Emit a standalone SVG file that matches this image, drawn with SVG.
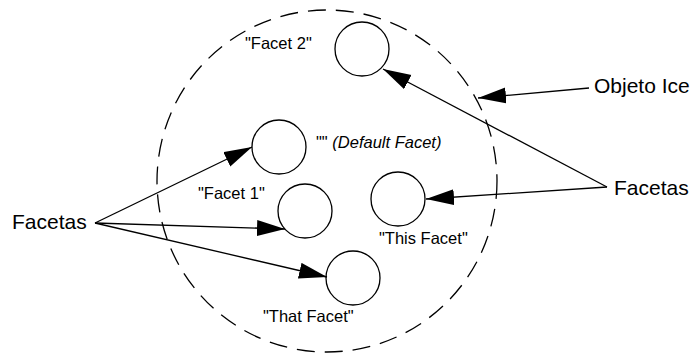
<svg xmlns="http://www.w3.org/2000/svg" width="693" height="354" viewBox="0 0 693 354">
<style>
text{font-family:"Liberation Sans",Arial,sans-serif;fill:#000}
.lbl{font-size:16.5px}
.big{font-size:21px}
.facet{fill:#fff;stroke:#000;stroke-width:1.3}
.conn line{stroke:#000;stroke-width:1.3}
</style>
<defs>
<marker id="ah" markerUnits="userSpaceOnUse" markerWidth="30" markerHeight="18" refX="28" refY="8" orient="auto">
<path d="M0,0 L28,8 L0,16 z" fill="#000"/>
</marker>
</defs>
<g id="ice-object">
<ellipse cx="327" cy="181" rx="170" ry="171" fill="none" stroke="#000" stroke-width="1.3" stroke-dasharray="18 10"/>
</g>
<g id="facet2"><circle class="facet" cx="362" cy="49" r="27"/><text class="lbl" x="245" y="49">"Facet 2"</text></g>
<g id="default-facet"><circle class="facet" cx="279" cy="147" r="27"/><text class="lbl" x="316" y="148">""  <tspan font-style="italic">(Default Facet)</tspan></text></g>
<g id="facet1"><circle class="facet" cx="305" cy="211" r="27"/><text class="lbl" x="198" y="199">"Facet 1"</text></g>
<g id="this-facet"><circle class="facet" cx="398" cy="199" r="27"/><text class="lbl" x="379" y="244">"This Facet"</text></g>
<g id="that-facet"><circle class="facet" cx="353" cy="278" r="27"/><text class="lbl" x="263" y="322">"That Facet"</text></g>
<g id="facetas-left"><text class="big" x="12" y="229">Facetas</text></g>
<g id="facetas-right"><text class="big" x="614" y="195">Facetas</text></g>
<g id="objeto-ice"><text class="big" x="594" y="93">Objeto Ice</text></g>
<g class="conn" id="connectors">
<line x1="95" y1="223" x2="252" y2="147" marker-end="url(#ah)"/>
<line x1="95" y1="223" x2="285" y2="229" marker-end="url(#ah)"/>
<line x1="95" y1="223" x2="327" y2="277" marker-end="url(#ah)"/>
<line x1="607" y1="187" x2="383" y2="69" marker-end="url(#ah)"/>
<line x1="607" y1="187" x2="426" y2="199" marker-end="url(#ah)"/>
<line x1="589" y1="88" x2="478" y2="98" marker-end="url(#ah)"/>
</g>
</svg>
